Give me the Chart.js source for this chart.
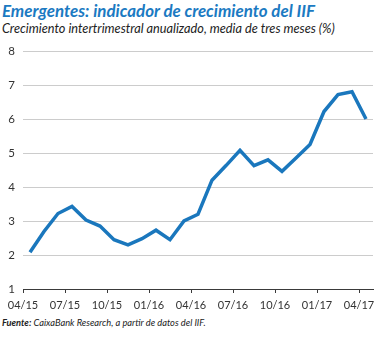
<!DOCTYPE html>
<html><head><meta charset="utf-8">
<script src="https://cdn.jsdelivr.net/npm/chart.js@4.4.1/dist/chart.umd.min.js"></script>
<style>
html,body{margin:0;padding:0;background:#fff;}
body{width:391px;height:338px;overflow:hidden;position:relative;font-family:Lato,"Open Sans",sans-serif;}
.t{position:absolute;white-space:nowrap;line-height:1;}
#title{left:2px;top:3px;font-style:italic;font-weight:700;font-size:16px;color:#1b7ac2;}
#sub{left:2px;top:22px;font-style:italic;font-weight:400;font-size:13px;color:#222;}
#src{left:2px;top:318px;font-style:italic;font-weight:400;font-size:9.5px;color:#222;}
#src b{font-weight:700;}
#wrap{position:absolute;left:0;top:0;width:391px;height:338px;}
</style></head>
<body>
<div id="title" class="t" data-w="313">Emergentes: indicador de crecimiento del IIF</div>
<div id="sub" class="t" data-w="333">Crecimiento intertrimestral anualizado, media de tres meses (%)</div>
<div id="src" class="t" data-w="204"><b>Fuente:</b> CaixaBank Research, a partir de datos del IIF.</div>
<div id="wrap"><canvas id="c" width="391" height="338"></canvas></div>
<script>
// Data
const months = ["04/15","05/15","06/15","07/15","08/15","09/15","10/15","11/15","12/15",
  "01/16","02/16","03/16","04/16","05/16","06/16","07/16","08/16","09/16","10/16","11/16","12/16",
  "01/17","02/17","03/17","04/17"];
const values = [2.08,2.69,3.22,3.43,3.03,2.85,2.45,2.30,2.48,2.73,2.45,3.00,3.20,
  4.20,4.63,5.08,4.63,4.80,4.46,4.85,5.25,6.22,6.72,6.80,6.00];
const tickLabels = ["04/15","07/15","10/15","01/16","04/16","07/16","10/16","01/17","04/17"];
const yTicks = [1,2,3,4,5,6,7,8];

// fit text widths
document.querySelectorAll('[data-w]').forEach(el=>{
  const target = +el.dataset.w;
  const w = el.getBoundingClientRect().width;
  const fs = parseFloat(getComputedStyle(el).fontSize);
  el.style.fontSize = (fs*target/w)+'px';
});

const tickPos = tickLabels.map(l => months.indexOf(l) - 0.5);

new Chart(document.getElementById('c'), {
  type: 'line',
  data: {
    datasets: [{
      data: values.map((v,i)=>({x:i,y:v})),
      borderColor: '#1a77bd',
      borderWidth: 3.5,
      pointRadius: 0,
      tension: 0,
      fill: false,
      borderJoinStyle: 'miter',
      clip: false
    }]
  },
  options: {
    responsive: false,
    animation: false,
    devicePixelRatio: 1,
    layout: { padding: { top: 51, right: 18, left: 0, bottom: 0 } },
    plugins: { legend: { display: false }, tooltip: { enabled: false }, title: { display: false } },
    scales: {
      x: {
        type: 'linear',
        min: -0.5, max: months.length - 0.5,
        afterBuildTicks: s => { s.ticks = tickPos.map(v => ({ value: v })); },
        afterFit: s => { s.height = 49; },
        border: { display: true, color: '#3a3a3a', width: 1 },
        grid: { drawOnChartArea: false, drawTicks: true, tickLength: 4, color: '#3a3a3a', lineWidth: 1 },
        ticks: {
          autoSkip: false, maxRotation: 0, padding: 6,
          color: '#333', font: { family: 'Lato', size: 11 },
          callback: (v) => { const i = tickPos.indexOf(v); return i >= 0 ? tickLabels[i] : ''; }
        }
      },
      y: {
        min: 1, max: 8,
        afterBuildTicks: s => { s.ticks = yTicks.map(v => ({ value: v })); },
        afterFit: s => { s.width = 23; },
        border: { display: false },
        grid: {
          drawTicks: false,
          color: ctx => ctx.tick && ctx.tick.value === 1 ? 'rgba(0,0,0,0)' : '#cccccc',
          lineWidth: 1
        },
        ticks: { padding: 8, color: '#333', font: { family: 'Lato', size: 11.5 } }
      }
    }
  }
});
</script>
</body></html>
